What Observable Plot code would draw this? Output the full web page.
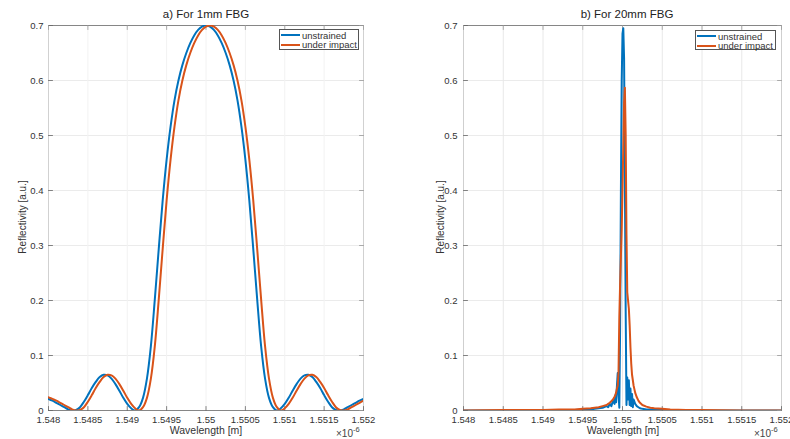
<!DOCTYPE html>
<html>
<head>
<meta charset="utf-8">
<script src="https://cdn.jsdelivr.net/npm/d3@7"></script>
<script src="https://cdn.jsdelivr.net/npm/@observablehq/plot@0.6"></script>
<style>
  html, body { margin: 0; padding: 0; background: #fff; }
  #wrap { position: relative; width: 790px; height: 439px; overflow: hidden; background: #fff;
          font-family: "Liberation Sans", Arial, sans-serif; color: #333; }
  .pane { position: absolute; top: 0; }
  .pane svg { overflow: visible; }
  .title { position: absolute; font-size: 11.5px; color: #222; white-space: nowrap; transform: translateX(-50%); }
  .xlab { position: absolute; font-size: 10.5px; color: #333; white-space: nowrap; transform: translateX(-50%); }
  .ylab { position: absolute; font-size: 10px; color: #333; white-space: nowrap; transform: translate(-50%, -50%) rotate(-90deg); }
  .exp { position: absolute; font-size: 10px; color: #444; white-space: nowrap; }
  .exp sup { font-size: 7.5px; position: relative; top: -1px; }
  .legend { position: absolute; background: #fff; border: 1px solid #555; box-sizing: border-box; font-size: 9.5px; color: #333; padding: 0 1px; line-height: 9px; white-space: nowrap; }
  .legend .row { display: flex; align-items: center; height: 9px; margin-top: 0.5px; }
  .legend .sw { width: 19px; height: 2px; margin-right: 2px; flex: none; }
</style>
</head>
<body>
<div id="wrap"></div>
<script>
// ---------- data ----------
const seriesNames = ["unstrained", "under impact"];
const seriesColors = ["#0072BD", "#D95319"];
const titles = ["a) For 1mm FBG", "b) For 20mm FBG"];
const xLabel = "Wavelength [m]";
const yLabel = "Reflectivity [a.u.]";

const xTicks = [1.548, 1.5485, 1.549, 1.5495, 1.55, 1.5505, 1.551, 1.5515, 1.552];
const xTickLabels = ["1.548", "1.5485", "1.549", "1.5495", "1.55", "1.5505", "1.551", "1.5515", "1.552"];
const yTicks = [0, 0.1, 0.2, 0.3, 0.4, 0.5, 0.6, 0.7];
const yTickLabels = ["0", "0.1", "0.2", "0.3", "0.4", "0.5", "0.6", "0.7"];
const xDomain = [1.548, 1.552];
const yDomain = [0, 0.7];

// Panel a) 1 mm FBG (wavelength in units of 1e-6 m)
const wlA = [1.548, 1.54805, 1.5481, 1.54815, 1.5482, 1.54825, 1.5483, 1.54835, 1.5484, 1.54845,
  1.5485, 1.54855, 1.5486, 1.54865, 1.5487, 1.54875, 1.5488, 1.54885, 1.5489, 1.54895,
  1.549, 1.54905, 1.5491, 1.54915, 1.5492, 1.54925, 1.5493, 1.54935, 1.5494, 1.54945,
  1.5495, 1.54955, 1.5496, 1.54965, 1.5497, 1.54975, 1.5498, 1.54985, 1.5499, 1.54995,
  1.55, 1.55005, 1.5501, 1.55015, 1.5502, 1.55025, 1.5503, 1.55035, 1.5504, 1.55045,
  1.5505, 1.55055, 1.5506, 1.55065, 1.5507, 1.55075, 1.5508, 1.55085, 1.5509, 1.55095,
  1.551, 1.55105, 1.5511, 1.55115, 1.5512, 1.55125, 1.5513, 1.55135, 1.5514, 1.55145,
  1.5515, 1.55155, 1.5516, 1.55165, 1.5517, 1.55175, 1.5518, 1.55185, 1.5519, 1.55195, 1.552];
const unstrainedA = [0.021, 0.018, 0.014, 0.010, 0.006, 0.002, 0.000, 0.001, 0.006, 0.016,
  0.028, 0.041, 0.052, 0.061, 0.065, 0.064, 0.058, 0.048, 0.036, 0.023,
  0.012, 0.004, 0.000, 0.006, 0.023, 0.058, 0.117, 0.202, 0.294, 0.382,
  0.456, 0.516, 0.564, 0.600, 0.628, 0.650, 0.668, 0.682, 0.692, 0.698,
  0.700, 0.698, 0.692, 0.682, 0.668, 0.650, 0.628, 0.600, 0.564, 0.516,
  0.456, 0.382, 0.294, 0.202, 0.117, 0.058, 0.023, 0.006, 0.000, 0.004,
  0.012, 0.023, 0.036, 0.048, 0.058, 0.064, 0.065, 0.061, 0.052, 0.041,
  0.028, 0.016, 0.006, 0.001, 0.000, 0.002, 0.006, 0.010, 0.014, 0.018, 0.021];
const impactA = [0.024, 0.021, 0.018, 0.014, 0.010, 0.006, 0.002, 0.000, 0.001, 0.006,
  0.016, 0.028, 0.041, 0.052, 0.061, 0.065, 0.064, 0.058, 0.048, 0.036,
  0.023, 0.012, 0.004, 0.000, 0.006, 0.023, 0.058, 0.117, 0.202, 0.294,
  0.382, 0.456, 0.516, 0.564, 0.600, 0.628, 0.650, 0.668, 0.682, 0.692,
  0.698, 0.700, 0.698, 0.692, 0.682, 0.668, 0.650, 0.628, 0.600, 0.564,
  0.516, 0.456, 0.382, 0.294, 0.202, 0.117, 0.058, 0.023, 0.006, 0.000,
  0.004, 0.012, 0.023, 0.036, 0.048, 0.058, 0.064, 0.065, 0.061, 0.052,
  0.041, 0.028, 0.016, 0.006, 0.001, 0.000, 0.002, 0.006, 0.010, 0.014, 0.018];

// Panel b) 20 mm FBG
const wlB = [1.548, 1.5485, 1.549, 1.5492, 1.5494, 1.5495, 1.5496, 1.54965, 1.5497, 1.54975,
  1.5498, 1.54982, 1.54984, 1.54986, 1.54988, 1.5499, 1.54991, 1.54992, 1.54993, 1.54994,
  1.54995, 1.54996, 1.54997, 1.54998, 1.54999, 1.55, 1.55001, 1.55002, 1.55003, 1.55004,
  1.55005, 1.55006, 1.55007, 1.55008, 1.55009, 1.5501, 1.55011, 1.55012, 1.55013, 1.55014,
  1.55016, 1.55018, 1.5502, 1.55022, 1.55025, 1.5503, 1.55035, 1.5504, 1.5505, 1.5506,
  1.5508, 1.551, 1.5515, 1.552];
const unstrainedB = [0.000, 0.000, 0.000, 0.001, 0.001, 0.002, 0.002, 0.003, 0.004, 0.005,
  0.008, 0.006, 0.012, 0.008, 0.018, 0.012, 0.028, 0.015, 0.045, 0.068,
  0.030, 0.005, 0.150, 0.400, 0.600, 0.685, 0.695, 0.640, 0.420, 0.180,
  0.010, 0.060, 0.020, 0.055, 0.010, 0.040, 0.008, 0.030, 0.006, 0.020,
  0.012, 0.008, 0.006, 0.004, 0.003, 0.002, 0.002, 0.001, 0.001, 0.001,
  0.000, 0.000, 0.000, 0.000];
const impactB = [0.000, 0.001, 0.001, 0.002, 0.002, 0.003, 0.004, 0.005, 0.006, 0.008,
  0.010, 0.012, 0.014, 0.017, 0.020, 0.025, 0.028, 0.033, 0.040, 0.045,
  0.070, 0.170, 0.230, 0.280, 0.330, 0.400, 0.480, 0.560, 0.587, 0.500,
  0.320, 0.215, 0.200, 0.185, 0.155, 0.115, 0.085, 0.065, 0.055, 0.045,
  0.032, 0.024, 0.018, 0.014, 0.010, 0.007, 0.005, 0.004, 0.003, 0.002,
  0.001, 0.001, 0.000, 0.000];

// ---------- drawing ----------
const toRows = (wl, ys, name) => wl.map((w, i) => ({wl: w, r: ys[i], series: name}));
const tickShape = {draw(ctx, l) { ctx.moveTo(0, 0); ctx.lineTo(0, -l); }};

function panel({rows, curve, width, marginLeft, marginRight, yPad, gridX}) {
  return Plot.plot({
    width, height: 439,
    marginLeft, marginRight, marginTop: 25, marginBottom: 29,
    style: {fontFamily: "Liberation Sans, Arial, sans-serif", fontSize: "9.5px", color: "#333", background: "transparent"},
    x: {domain: xDomain, ticks: xTicks, tickFormat: d => xTickLabels[xTicks.indexOf(d)], tickSize: 0, tickPadding: 6, label: null},
    y: {domain: yDomain, ticks: yTicks, tickFormat: d => yTickLabels[yTicks.indexOf(d)], tickSize: 0, tickPadding: yPad, label: null},
    color: {domain: seriesNames, range: seriesColors},
    marks: [
      Plot.ruleY(yTicks, {stroke: "#ebebeb", strokeWidth: 1}),
      Plot.ruleX(xTicks, {stroke: gridX, strokeWidth: 1}),
      Plot.ruleX(xDomain, {stroke: "#c8c8c8", strokeWidth: 0.8}),
      Plot.ruleY(yDomain, {stroke: "#7a7a7a", strokeWidth: 0.9}),
      Plot.vector(yTicks, {x: xDomain[0], y: d => d, length: 4, rotate: 90, anchor: "start", shape: tickShape, stroke: "#666", strokeWidth: 0.8}),
      Plot.vector(yTicks, {x: xDomain[1], y: d => d, length: 4, rotate: -90, anchor: "start", shape: tickShape, stroke: "#999", strokeWidth: 0.8}),
      Plot.vector(xTicks, {x: d => d, y: yDomain[0], length: 4, rotate: 0, anchor: "start", shape: tickShape, stroke: "#666", strokeWidth: 0.8}),
      Plot.vector(xTicks, {x: d => d, y: yDomain[1], length: 4, rotate: 180, anchor: "start", shape: tickShape, stroke: "#999", strokeWidth: 0.8}),
      Plot.line(rows, {x: "wl", y: "r", z: "series", stroke: "series", strokeWidth: 2, curve, clip: true})
    ]
  });
}

const wrap = document.getElementById("wrap");

const leftRows = [...toRows(wlA, unstrainedA, seriesNames[0]), ...toRows(wlA, impactA, seriesNames[1])];
const rightRows = [...toRows(wlB, unstrainedB, seriesNames[0]), ...toRows(wlB, impactB, seriesNames[1])];

const pA = document.createElement("div"); pA.className = "pane"; pA.style.left = "0px";
pA.appendChild(panel({rows: leftRows, curve: "catmull-rom", width: 395, marginLeft: 48, marginRight: 32, yPad: 5, gridX: "#f2f2f2"}));
wrap.appendChild(pA);

const pB = document.createElement("div"); pB.className = "pane"; pB.style.left = "395px";
pB.appendChild(panel({rows: rightRows, curve: "linear", width: 395, marginLeft: 68, marginRight: 9, yPad: 6, gridX: "#e8e8e8"}));
wrap.appendChild(pB);

function addText(cls, html, left, top) {
  const d = document.createElement("div");
  d.className = cls; d.innerHTML = html;
  d.style.left = left + "px"; d.style.top = top + "px";
  wrap.appendChild(d);
  return d;
}
addText("title", titles[0], 206, 8);
addText("title", titles[1], 627, 8);
addText("xlab", xLabel, 206, 424);
addText("xlab", xLabel, 623, 424);
addText("ylab", yLabel, 22, 217);
addText("ylab", yLabel, 440, 217);
addText("exp", "\u00d710<sup>-6</sup>", 336, 426);
addText("exp", "\u00d710<sup>-6</sup>", 754, 426);

function addLegend(left, top, width, height) {
  const lg = document.createElement("div");
  lg.className = "legend";
  lg.style.left = left + "px"; lg.style.top = top + "px";
  lg.style.width = width + "px"; lg.style.height = height + "px";
  seriesNames.forEach((n, i) => {
    const row = document.createElement("div"); row.className = "row";
    const sw = document.createElement("div"); sw.className = "sw"; sw.style.background = seriesColors[i];
    const t = document.createElement("span"); t.textContent = n;
    row.appendChild(sw); row.appendChild(t); lg.appendChild(row);
  });
  wrap.appendChild(lg);
}
addLegend(279, 29, 80, 21);
addLegend(695, 30, 81, 20);
</script>
</body>
</html>
